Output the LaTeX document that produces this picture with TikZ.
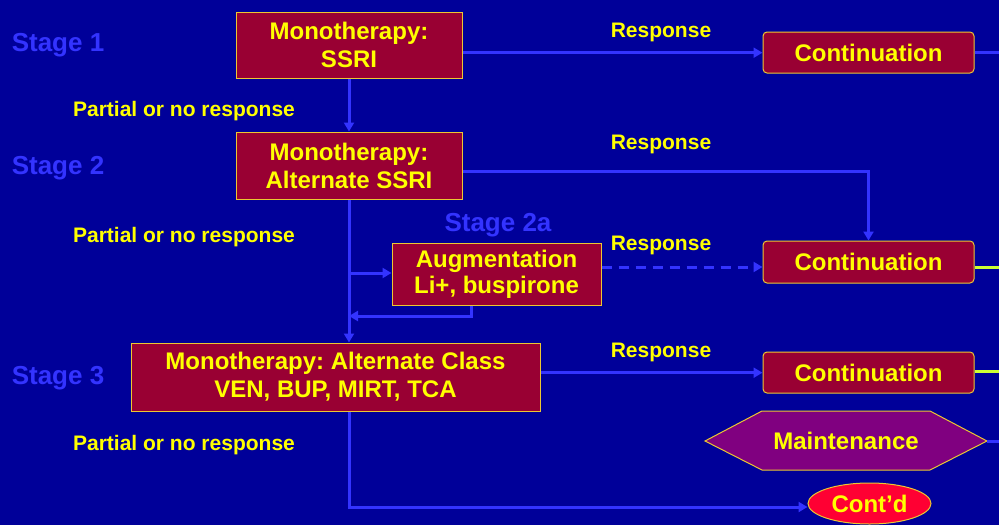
\documentclass[tikz,border=0pt]{standalone}
\usepackage{fontspec}
\setmainfont{Liberation Sans}
\frenchspacing
\usetikzlibrary{arrows.meta,shapes.geometric,calc}
\definecolor{bgblue}{RGB}{0,0,153}
\definecolor{lineblue}{RGB}{51,51,255}
\definecolor{boxred}{RGB}{153,0,51}
\definecolor{boxedge}{RGB}{235,200,50}
\definecolor{txtyellow}{RGB}{255,255,0}
\definecolor{ygreen}{RGB}{204,255,51}
\definecolor{maintpurple}{RGB}{128,0,128}
\definecolor{contred}{RGB}{255,0,51}
\tikzset{
  box/.style={draw=boxedge, line width=1pt, fill=boxred, text=txtyellow, align=center,
    inner sep=0pt, font=\fontsize{24}{28}\selectfont\bfseries},
  contbox/.style={box, rounded corners=4pt, minimum width=211pt, minimum height=41pt},
  stagelbl/.style={text=lineblue, font=\fontsize{26}{30}\selectfont\bfseries, inner sep=0pt},
  lbl/.style={text=txtyellow, font=\fontsize{21}{24}\selectfont\bfseries, inner sep=0pt},
  conn/.style={draw=lineblue, line width=3pt},
  arr/.style={conn, -{Triangle[length=9pt,width=10pt]}},
  gline/.style={draw=ygreen, line width=3pt},
}
\begin{document}
\begin{tikzpicture}[x=1pt,y=-1pt]
\fill[bgblue] (0,0) rectangle (999,525);
\useasboundingbox (0,0) rectangle (999,525);

% level coordinates
\coordinate (E) at (999,0);
\coordinate (L1) at (0,52.7);
\coordinate (L2) at (0,171);
\coordinate (Lbr) at (0,273);
\coordinate (Lret) at (0,316);
\coordinate (Ldash) at (0,267);
\coordinate (Lg2) at (0,267);
\coordinate (L3) at (0,372.7);
\coordinate (Lg3) at (0,371.7);
\coordinate (Lc) at (0,507);
\coordinate (Xret) at (471,0);
\coordinate (Xv) at (349,0);

% boxes
\node[box, minimum width=226pt, minimum height=66pt] (M1) at (349,45) {Monotherapy:\\SSRI};
\node[box, minimum width=226pt, minimum height=67pt] (M2) at (349,165.5) {Monotherapy:\\Alternate SSRI};
\node[box, minimum width=209pt, minimum height=62pt, font=\fontsize{24}{26}\selectfont\bfseries] (Aug) at (496.5,274) {Augmentation\\Li+, buspirone};
\node[box, minimum width=409pt, minimum height=68pt] (M3) at (335.5,377) {Monotherapy: Alternate Class\\VEN, BUP, MIRT, TCA};
\node[contbox] (C1) at (868.5,52.5) {Continuation};
\node[contbox, minimum height=42pt] (C2) at (868.5,262) {Continuation};
\node[contbox] (C3) at (868.5,372.5) {Continuation};

% maintenance hexagon
\draw[draw=boxedge, line width=1pt, fill=maintpurple]
  (705,441) -- (762,411) -- (930,411) -- (987,441) -- (930,470) -- (762,470) -- cycle;
\node[lbl, font=\fontsize{24}{28}\selectfont\bfseries] (Mt) at (846,441) {Maintenance};
\coordinate (MtR) at (987,441);

% cont'd ellipse
\node[ellipse, draw=boxedge, line width=1pt, fill=contred, text=txtyellow, inner sep=0pt,
  minimum width=123pt, minimum height=41pt, font=\fontsize{24}{28}\selectfont\bfseries] (Cd) at (869.5,503.5) {Cont’d};

% labels
\node[stagelbl] (s1) at (58,45) {Stage 1};
\node[stagelbl] (s2) at (58,168) {Stage 2};
\node[stagelbl] (s3) at (58,378) {Stage 3};
\node[stagelbl] (s2a) at (498,225) {Stage 2a};
\node[lbl] (p1) at (184,111) {Partial or no response};
\node[lbl] (p2) at (184,237) {Partial or no response};
\node[lbl] (p3) at (184,445) {Partial or no response};
\node[lbl] (r1) at (661,32) {Response};
\node[lbl] (r2) at (661,144) {Response};
\node[lbl] (r3) at (661,245) {Response};
\node[lbl] (r4) at (661,352) {Response};

% connectors
\draw[arr] (M1.east |- L1) -- (C1.west |- L1);
\draw[conn] (C1.east |- L1) -- (E |- L1);
\draw[arr] (M1.south) -- (M2.north);
\draw[arr] (M2.east |- L2) -| (C2.north);
\draw[arr] (M2.south) -- (Xv |- M3.north);
\draw[arr] (Xv |- Lbr) -- (Aug.west |- Lbr);
\draw[arr] (Xret |- Aug.south) |- (Xv |- Lret);
\draw[arr, dashed, dash pattern=on 10pt off 7pt] (Aug.east |- Ldash) -- (C2.west |- Ldash);
\draw[gline] (C2.east |- Lg2) -- (E |- Lg2);
\draw[arr] (M3.east |- L3) -- (C3.west |- L3);
\draw[gline] (C3.east |- Lg3) -- (E |- Lg3);
\draw[conn] (MtR) -- (E |- MtR);
\draw[arr] (Xv |- M3.south) |- (Cd.west |- Lc);
\end{tikzpicture}
\end{document}
